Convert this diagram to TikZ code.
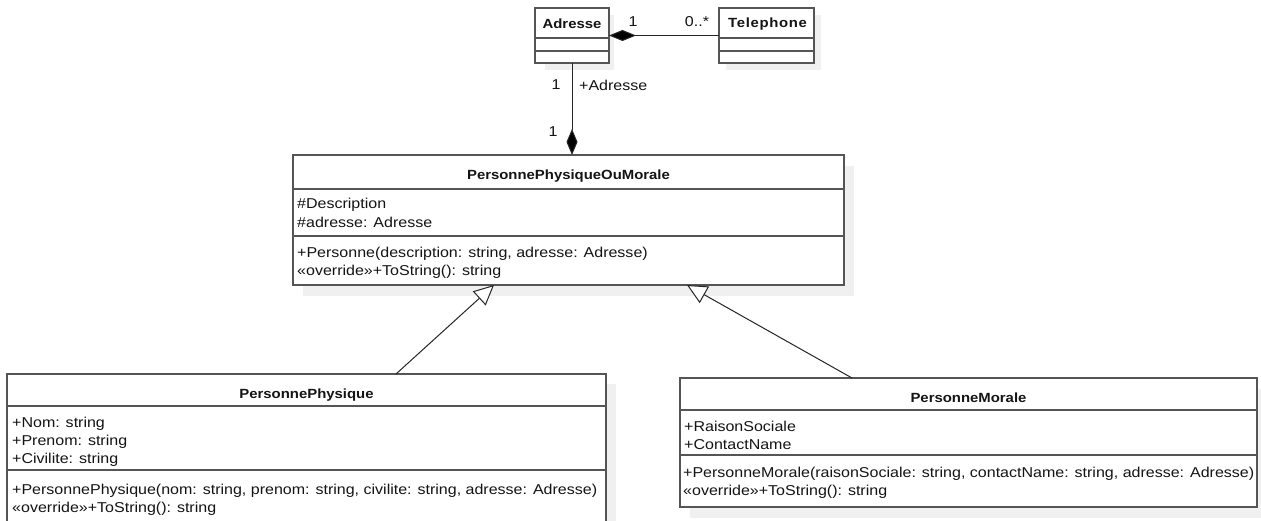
\documentclass[tikz,border=0pt]{standalone}
\usepackage{fontspec}
\setmainfont{Liberation Sans}[FakeStretch=1.12]
\usetikzlibrary{calc,arrows.meta}
\definecolor{boxc}{RGB}{85,85,85}
\definecolor{shadowc}{RGB}{240,240,240}
\definecolor{txtc}{RGB}{20,20,20}
\begin{document}
\begin{tikzpicture}[x=1pt,y=-1pt,
  box/.style={draw=boxc, line width=1.4pt, fill=white, anchor=north west, inner sep=0pt, outer sep=0pt},
  shadowbox/.style={fill=shadowc, draw=none, anchor=north west, inner sep=0pt, outer sep=0pt},
  sepline/.style={draw=boxc, line width=1.4pt},
  ctitle/.style={font=\fontsize{13.3}{15}\selectfont\bfseries, text=txtc, inner sep=0pt},
  stitle/.style={font=\fontsize{13.3}{15}\selectfont\bfseries, text=txtc, inner sep=0pt},
  members/.style={font=\fontsize{14.3}{18.3}\selectfont, text=txtc, align=left, anchor=west, inner sep=0pt},
  lbl/.style={font=\fontsize{14.3}{16}\selectfont, text=txtc, inner sep=0pt},
  conn/.style={draw=black!85, line width=1pt},
  compo/.style={conn, {Diamond[length=27pt,width=11pt,fill=black]}-},
  compoend/.style={conn, -{Diamond[length=26pt,width=11pt,fill=black]}},
  gen/.style={conn, -{Triangle[open, length=20pt, width=19pt, fill=white]}}
]
\useasboundingbox[fill=white] (0,0) rectangle (1261,521);

% shadows
\node[shadowbox, minimum width=69pt, minimum height=55pt] (adrs) at (545,15) {};
\node[shadowbox, minimum width=95pt, minimum height=55pt] (tels) at (726,15) {};
\node[shadowbox, minimum width=551pt, minimum height=130pt] (ppms) at (303,166) {};
\node[shadowbox, minimum width=599pt, minimum height=150pt] (pps) at (17,384) {};
\node[shadowbox, minimum width=580pt, minimum height=129pt] (pms) at (690,389) {};

% Adresse
\node[box, minimum width=74pt, minimum height=55pt] (adr) at (535,8) {};
\draw[sepline] ($(adr.north west)+(0,30)$) -- ($(adr.north east)+(0,30)$);
\draw[sepline] ($(adr.north west)+(0,43)$) -- ($(adr.north east)+(0,43)$);
\node[stitle] (adrt) at ($(adr.north)+(0,16)$) {Adresse};

% Telephone
\node[box, minimum width=95pt, minimum height=55pt] (tel) at (719,8) {};
\draw[sepline] ($(tel.north west)+(0,30)$) -- ($(tel.north east)+(0,30)$);
\draw[sepline] ($(tel.north west)+(0,43)$) -- ($(tel.north east)+(0,43)$);
\node[stitle] (telt) at ($(tel.north)+(1,16)$) {\addfontfeature{LetterSpace=5}Telephone};

% PersonnePhysiqueOuMorale
\node[box, minimum width=551pt, minimum height=130pt] (ppm) at (293,155) {};
\draw[sepline] ($(ppm.north west)+(0,34)$) -- ($(ppm.north east)+(0,34)$);
\draw[sepline] ($(ppm.north west)+(0,81)$) -- ($(ppm.north east)+(0,81)$);
\node[ctitle] (ppmt) at ($(ppm.north)+(0,21)$) {PersonnePhysiqueOuMorale};
\node[members] (ppma) at ($(ppm.north west)+(4,58)$) {\#Description\\\#adresse: Adresse};
\node[members] (ppmm) at ($(ppm.north west)+(4,107.5)$) {+Personne(description: string, adresse: Adresse)\\«override»+ToString(): string};

% PersonnePhysique
\node[box, minimum width=599pt, minimum height=160pt] (pp) at (7,374) {};
\draw[sepline] ($(pp.north west)+(0,32)$) -- ($(pp.north east)+(0,32)$);
\draw[sepline] ($(pp.north west)+(0,96)$) -- ($(pp.north east)+(0,96)$);
\node[ctitle] (ppt) at ($(pp.north)+(0,21)$) {PersonnePhysique};
\node[members] (ppa) at ($(pp.north west)+(5,68)$) {+Nom: string\\+Prenom: string\\+Civilite: string};
\node[members] (ppmeth) at ($(pp.north west)+(5,125.5)$) {+PersonnePhysique(nom: string, prenom: string, civilite: string, adresse: Adresse)\\«override»+ToString(): string};

% PersonneMorale
\node[box, minimum width=577pt, minimum height=129pt] (pm) at (680,378) {};
\draw[sepline] ($(pm.north west)+(0,32)$) -- ($(pm.north east)+(0,32)$);
\draw[sepline] ($(pm.north west)+(0,77)$) -- ($(pm.north east)+(0,77)$);
\node[ctitle] (pmt) at ($(pm.north)+(0,20)$) {PersonneMorale};
\node[members] (pma) at ($(pm.north west)+(4,57.5)$) {+RaisonSociale\\+ContactName};
\node[members] (pmm) at ($(pm.north west)+(3,105)$) {+PersonneMorale(raisonSociale: string, contactName: string, adresse: Adresse)\\«override»+ToString(): string};

% connectors
\draw[compo] (adr.east) -- (tel.west);
\node[lbl] (m1) at (633,22) {1};
\node[lbl] (m2) at (697,22) {0..*};

\draw[compoend] (adr.south) -- (adr.south |- ppm.north);
\node[lbl] (m3) at (556,85) {1};
\node[lbl, anchor=west] (role) at (579,85) {+Adresse};
\node[lbl] (m4) at (553,132) {1};

\coordinate (ppTop) at ($(pp.north west)+(389,0)$);
\coordinate (ppmL) at ($(ppm.south west)+(201,0)$);
\draw[gen] (ppTop) -- (ppmL);
\coordinate (pmTop) at ($(pm.north west)+(172,0)$);
\coordinate (ppmR) at ($(ppm.south west)+(394,0)$);
\draw[gen] (pmTop) -- (ppmR);
\end{tikzpicture}
\end{document}
